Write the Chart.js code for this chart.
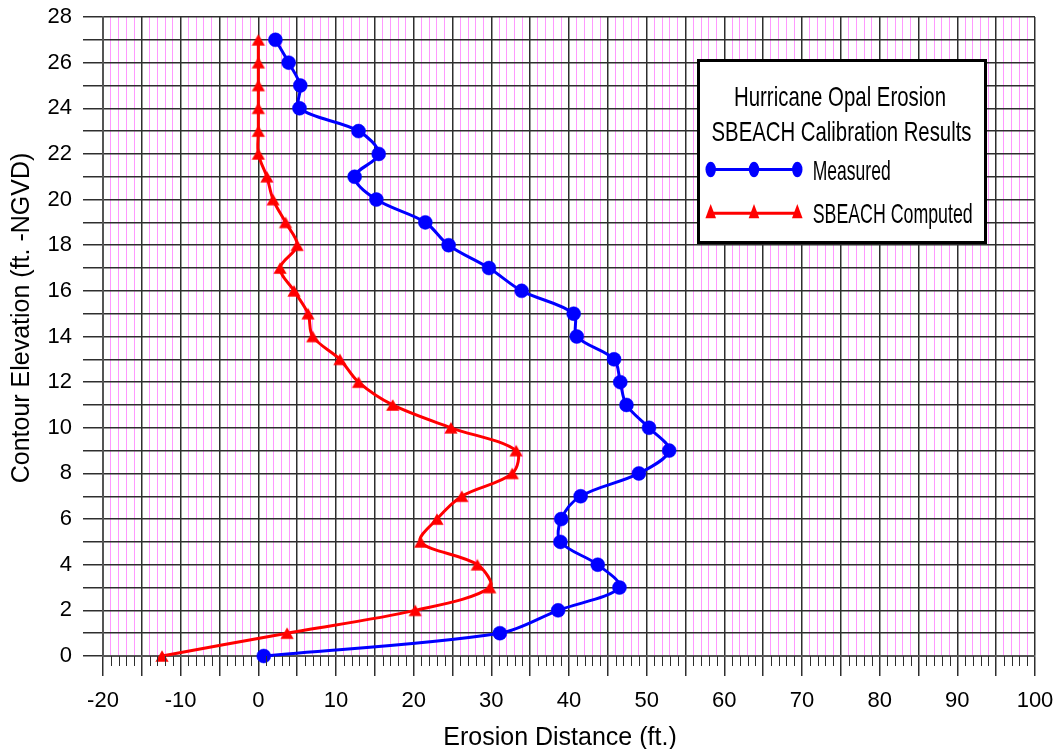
<!DOCTYPE html>
<html>
<head>
<meta charset="utf-8">
<script src="https://cdn.jsdelivr.net/npm/chart.js@4.4.1/dist/chart.umd.min.js"></script>
<style>
html,body{margin:0;padding:0;background:#ffffff;}
#wrap{width:1055px;height:749px;position:relative;}
</style>
</head>
<body>
<div id="wrap"><canvas id="c"></canvas></div>
<script>
// ---- data ----
const elevations = [0,1,2,3,4,5,6,7,8,9,10,11,12,13,14,15,16,17,18,19,20,21,22,23,24,25,26,27];
const measured   = [0.7,31.1,38.6,46.5,43.7,38.9,39.0,41.5,49.0,52.9,50.3,47.4,46.6,45.8,41.0,40.6,33.9,29.7,24.5,21.5,15.2,12.4,15.5,12.9,5.3,5.4,3.9,2.2];
const computed   = [-12.4,3.7,20.2,29.8,28.2,20.9,23.0,26.2,32.7,33.2,24.8,17.3,12.9,10.5,7.0,6.4,4.6,2.8,5.0,3.5,1.9,1.1,0,0,0,0,0,0];
const xTickLabels = [-20,-10,0,10,20,30,40,50,60,70,80,90,100];
const yTickLabels = [0,2,4,6,8,10,12,14,16,18,20,22,24,26,28];
const seriesNames = ['Measured','SBEACH Computed'];
const legendTitle = ['Hurricane Opal Erosion','SBEACH Calibration Results'];
const xTitle = 'Erosion Distance (ft.)';
const yTitle = 'Contour Elevation (ft. -NGVD)';

const FONT = "'Liberation Sans', Arial, Helvetica, sans-serif";
const DARK = '#2e2e2e';
const PINK = '#ff99ff';
const BLUE = '#0000ff';
const RED  = '#ff0000';

function triImage(){
  const c = document.createElement('canvas');
  c.width = 16; c.height = 14;
  const g = c.getContext('2d');
  g.fillStyle = RED;
  g.beginPath();
  g.moveTo(8, 1.2); g.lineTo(14.6, 12.8); g.lineTo(1.4, 12.8); g.closePath();
  g.fill();
  return c;
}

const minorTicks = {
  id: 'minorTicks',
  afterDraw(chart){
    const xs = chart.scales.x, ctx = chart.ctx;
    ctx.save();
    ctx.strokeStyle = DARK; ctx.lineWidth = 1;
    ctx.beginPath();
    xs.ticks.forEach((t,i) => {
      if (t.value % 5 !== 0) {
        const px = Math.round(xs.getPixelForTick(i)) + 0.5;
        ctx.moveTo(px, xs.top); ctx.lineTo(px, xs.top + 10);
      }
    });
    ctx.stroke();
    ctx.restore();
  }
};

const axisTitles = {
  id: 'axisTitles',
  afterDraw(chart){
    const ctx = chart.ctx;
    ctx.save();
    ctx.fillStyle = '#000';
    ctx.font = '25px ' + FONT;
    ctx.textAlign = 'center'; ctx.textBaseline = 'middle';
    ctx.fillText(xTitle, 560, 738);
    ctx.translate(22, 318);
    ctx.rotate(-Math.PI / 2);
    ctx.fillText(yTitle, 0, 0);
    ctx.restore();
  }
};

function fitText(ctx, text, size, targetW, x, capMid, align){
  ctx.save();
  ctx.font = size + 'px ' + FONT;
  const w = ctx.measureText(text).width;
  const sx = targetW / w;
  const base = capMid + 0.716 * size / 2;
  const left = align === 'center' ? x - targetW / 2 : x;
  ctx.translate(left, base);
  ctx.scale(sx, 1);
  ctx.textAlign = 'left'; ctx.textBaseline = 'alphabetic';
  ctx.fillStyle = '#000';
  ctx.fillText(text, 0, 0);
  ctx.restore();
}

const boxLegend = {
  id: 'boxLegend',
  afterDraw(chart){
    const ctx = chart.ctx;
    ctx.save();
    ctx.fillStyle = '#fff';
    ctx.fillRect(697, 59, 290, 185);
    ctx.strokeStyle = '#000'; ctx.lineWidth = 3;
    ctx.strokeRect(698.5, 60.5, 287, 182);
    fitText(ctx, legendTitle[0], 28, 212, 840, 96, 'center');
    fitText(ctx, legendTitle[1], 28, 260, 841.5, 131, 'center');
    const mx = [710.7, 754, 797.3];
    ctx.strokeStyle = BLUE; ctx.lineWidth = 3;
    ctx.beginPath(); ctx.moveTo(mx[0], 169.5); ctx.lineTo(mx[2], 169.5); ctx.stroke();
    ctx.fillStyle = BLUE;
    mx.forEach(x => { ctx.beginPath(); ctx.ellipse(x, 169.5, 5.2, 7.8, 0, 0, Math.PI*2); ctx.fill(); });
    fitText(ctx, seriesNames[0], 28, 78, 812.7, 170, 'left');
    ctx.strokeStyle = RED; ctx.lineWidth = 3;
    ctx.beginPath(); ctx.moveTo(mx[0], 213.3); ctx.lineTo(mx[2], 213.3); ctx.stroke();
    ctx.fillStyle = RED;
    mx.forEach(x => { ctx.beginPath(); ctx.moveTo(x, 204); ctx.lineTo(x + 5.3, 218.3); ctx.lineTo(x - 5.3, 218.3); ctx.closePath(); ctx.fill(); });
    fitText(ctx, seriesNames[1], 28, 160, 812.7, 213.3, 'left');
    ctx.restore();
  }
};

const isMajorX = c => c.tick && Math.abs(c.tick.value % 5) < 1e-9;

new Chart(document.getElementById('c'), {
  type: 'scatter',
  data: {
    datasets: [
      {
        label: seriesNames[0],
        data: elevations.map((e,i) => ({x: measured[i], y: e})),
        showLine: true, clip: false,
        borderColor: BLUE, backgroundColor: BLUE,
        borderWidth: 3, tension: 0.33,
        pointStyle: 'circle', pointRadius: 7, pointBorderWidth: 0.5,
        pointBackgroundColor: BLUE, pointBorderColor: BLUE
      },
      {
        label: seriesNames[1],
        data: elevations.map((e,i) => ({x: computed[i], y: e})),
        showLine: true, clip: false,
        borderColor: RED, backgroundColor: RED,
        borderWidth: 3, tension: 0.33,
        pointStyle: triImage(), pointRadius: 7,
        pointBackgroundColor: RED, pointBorderColor: RED
      }
    ]
  },
  options: {
    responsive: true, maintainAspectRatio: false, animation: false,
    devicePixelRatio: 1,
    layout: { padding: { top: 17, right: 20, left: 0, bottom: 0 } },
    plugins: { legend: { display: false }, tooltip: { enabled: false } },
    scales: {
      x: {
        type: 'linear', min: -20, max: 100,
        afterFit(s){ s.height = 93; s.paddingLeft = 0; s.paddingRight = 0; },
        ticks: {
          stepSize: 1, autoSkip: false, maxRotation: 0, minRotation: 0, padding: 12,
          color: '#000', font: { family: FONT, size: 22 },
          callback: v => xTickLabels.includes(v) ? String(v) : ''
        },
        grid: {
          color: c => isMajorX(c) ? DARK : PINK,
          lineWidth: c => isMajorX(c) ? 1.5 : 1,
          tickLength: 20,
          tickColor: c => isMajorX(c) ? DARK : 'rgba(0,0,0,0)',
          tickWidth: 1.5
        },
        border: { color: '#555', width: 2 },
        title: { display: false, text: xTitle }
      },
      y: {
        type: 'linear', min: 0, max: 28,
        afterFit(s){ s.width = 103; s.paddingTop = 0; s.paddingBottom = 0; },
        ticks: {
          stepSize: 1, autoSkip: false, padding: 11,
          color: '#000', font: { family: FONT, size: 22 },
          callback: v => yTickLabels.includes(v) ? String(v) : ''
        },
        grid: { color: DARK, lineWidth: 1.5, tickLength: 20, tickColor: DARK, tickWidth: 1.5 },
        border: { color: '#555', width: 2 },
        title: { display: false, text: yTitle }
      }
    }
  },
  plugins: [minorTicks, axisTitles, boxLegend]
});
</script>
</body>
</html>
